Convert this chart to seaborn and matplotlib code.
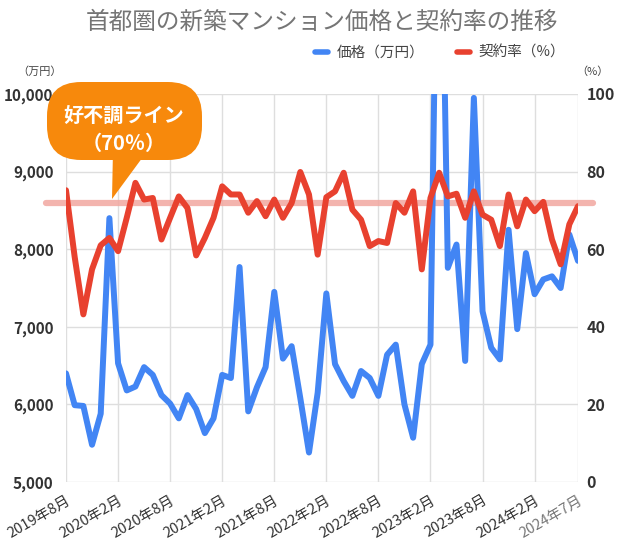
import numpy as np
import pandas as pd
import matplotlib
matplotlib.use('Agg')
import matplotlib.pyplot as plt
from matplotlib.patches import FancyBboxPatch, Polygon
import seaborn as sns

# monthly data, 2019-08 .. 2024-07
start_year, start_month = 2019, 8
price = [6400, 5990, 5980, 5480, 5880, 8400, 6530, 6180, 6230, 6480,
         6380, 6120, 6010, 5820, 6120, 5940, 5630, 5820, 6380, 6340,
         7770, 5910, 6220, 6480, 7450, 6590, 6750, 6080, 5380, 6150,
         7430, 6520, 6300, 6110, 6430, 6340, 6110, 6640, 6770, 6000,
         5570, 6520, 6770, 14360, 7760, 8060, 6560, 9950, 7200, 6730,
         6580, 8250, 6970, 7950, 7420, 7610, 7650, 7500, 8190, 7850]
rate = [75.2, 58.0, 43.2, 54.8, 61.0, 62.9, 59.5, 68.1, 77.1, 72.8,
        73.2, 62.5, 68.1, 73.6, 70.6, 58.4, 62.9, 68.1, 76.2, 74.1,
        74.1, 69.4, 72.4, 68.5, 72.8, 68.1, 71.9, 79.9, 74.1, 58.6,
        73.4, 74.9, 79.7, 70.2, 67.6, 60.8, 62.1, 61.6, 71.9, 69.4,
        74.9, 54.8, 73.2, 79.7, 73.6, 74.3, 68.1, 74.9, 68.9, 67.6,
        60.8, 74.1, 65.9, 72.8, 69.8, 72.2, 62.5, 56.1, 66.4, 71.1]
tick_idx = [0, 6, 12, 18, 24, 30, 36, 42, 48, 54, 59]
line_level = 72  # drawn position of the 70% guide

def month_label(i):
    m = start_month - 1 + i
    return f"{start_year + m // 12}年{m % 12 + 1}月"

df = pd.DataFrame({'idx': np.arange(len(price)), 'price': price, 'rate': rate})

sns.set_theme(style='white')
plt.rcParams['font.family'] = ['Noto Sans CJK JP', 'DejaVu Sans']

W, H = 620, 545
fig = plt.figure(figsize=(W / 100, H / 100), dpi=100)
ax = fig.add_axes([66 / W, 1 - 482 / H, (578 - 66) / W, (482 - 94) / H])

def px(x, y):
    return x / W, 1 - y / H

blue = '#4285f4'
red = '#e8412f'

sns.lineplot(x='idx', y='price', data=df, ax=ax, color=blue, lw=4.3,
             solid_joinstyle='round', zorder=3)
ax.set_ylim(5000, 10000)
ax.set_xlim(0, 59)
ax.set_yticks(range(5000, 10001, 1000))
ax.set_yticklabels([f"{v:,}" for v in range(5000, 10001, 1000)])
ax.set_xticks(tick_idx)
ax.set_xticklabels([month_label(i) for i in tick_idx], rotation=30,
                   ha='right', rotation_mode='anchor')
ax.grid(True, color='#dedede', lw=1)
for s in ax.spines.values():
    s.set_visible(False)
ax.set_xlabel('')
ax.set_ylabel('')
ax.tick_params(axis='y', length=0, pad=9, labelsize=11, labelcolor='#333333')
ax.tick_params(axis='x', length=0, pad=8, labelsize=10.5, labelcolor='#333333')
for t in ax.get_yticklabels():
    t.set_fontweight('bold')
ax.get_xticklabels()[-1].set_color('#777777')

# 70% guide line (extends past the plot area, under the data lines)
ax.axhline(5000 + line_level * 50, xmin=-20 / 512, xmax=1 + 15 / 512,
           color='#f2a7a0', lw=4.5, alpha=0.85, zorder=2, clip_on=False)

ax2 = ax.twinx()
sns.lineplot(x='idx', y='rate', data=df, ax=ax2, color=red, lw=4.3,
             solid_joinstyle='round')
ax2.set_ylim(0, 100)
ax2.set_yticks(range(0, 101, 20))
ax2.set_ylabel('')
ax2.grid(False)
for s in ax2.spines.values():
    s.set_visible(False)
ax2.tick_params(axis='y', length=0, pad=6, labelsize=11.5, labelcolor='#333333')
for t in ax2.get_yticklabels():
    t.set_fontweight('bold')

# callout bubble
orange = '#f7890c'
bx0, by0, bx1, by1 = 47, 82, 202, 160
bubble = FancyBboxPatch(px(bx0, by1), (bx1 - bx0) / W, (by1 - by0) / H,
                        boxstyle='round,pad=0,rounding_size=0.055',
                        transform=fig.transFigure, fc=orange, ec='none',
                        mutation_aspect=W / H, zorder=5)
fig.add_artist(bubble)
tail = Polygon([px(113, 150), px(148, 150), px(112, 199)], closed=True,
               transform=fig.transFigure, fc=orange, ec='none', zorder=5)
fig.add_artist(tail)
fig.text(*px(124, 115), '好不調ライン', color='white', fontsize=14.5,
         fontweight='bold', ha='center', va='center', zorder=6)
fig.text(*px(124, 143), '（70％）', color='white', fontsize=14.5,
         fontweight='bold', ha='center', va='center', zorder=6)

# title, legend, unit labels
fig.text(*px(322, 22), '首都圏の新築マンション価格と契約率の推移',
         color='#757575', fontsize=17, ha='center', va='center')
handles = [plt.Line2D([], [], color=blue, lw=4),
           plt.Line2D([], [], color=red, lw=4)]
fig.legend(handles, ['価格（万円）', '契約率（%）'], loc='center',
           bbox_to_anchor=px(440, 53), ncol=2, frameon=False, fontsize=10.5,
           handlelength=0.9, handletextpad=0.6, columnspacing=2.2,
           labelcolor='#444444')
fig.text(*px(40, 72), '（万円）', color='#444444', fontsize=8,
         ha='center', va='center')
fig.text(*px(592, 72), '（%）', color='#444444', fontsize=8,
         ha='center', va='center')

fig.savefig('out.png', dpi=100)
